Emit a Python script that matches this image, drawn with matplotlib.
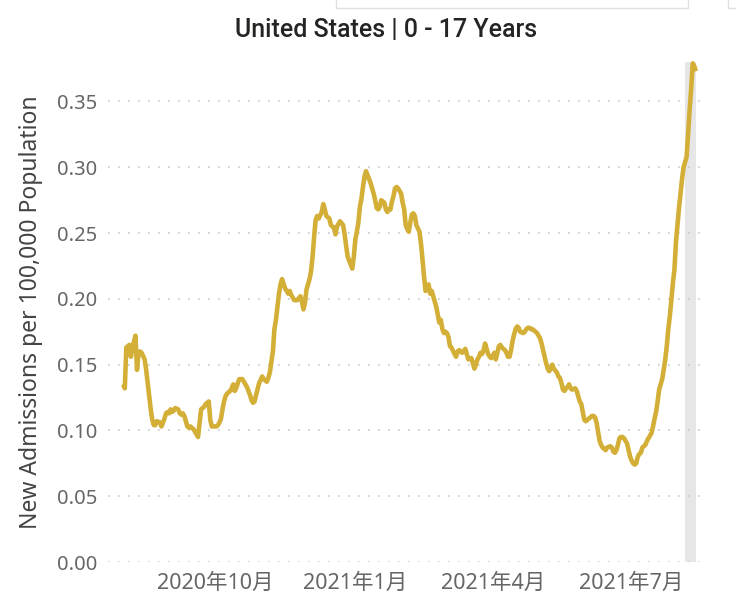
import matplotlib
matplotlib.use("Agg")
import matplotlib.pyplot as plt
from matplotlib.patches import Rectangle
import pandas as pd

plt.rcParams['font.family'] = ['Noto Sans', 'Noto Sans CJK JP']

start_date = "2020-08-01"

# days after start_date
day_offset = [
    1, 2, 3, 4, 5, 6, 7, 9, 10, 11, 12, 13, 15, 16, 17, 18, 19, 20, 21, 22, 23, 25,
    26, 27, 28, 29, 30, 31, 32, 33, 34, 35, 37, 38, 39, 40, 41, 42, 43, 44, 45, 46,
    47, 49, 50, 51, 52, 53, 54, 55, 56, 57, 58, 59, 61, 62, 63, 64, 65, 66, 67, 68,
    69, 71, 72, 73, 74, 75, 76, 77, 78, 79, 80, 82, 83, 84, 85, 86, 87, 88, 90, 92,
    93, 95, 96, 97, 99, 100, 101, 102, 103, 104, 105, 107, 109, 110, 111, 112, 113,
    115, 117, 118, 119, 120, 121, 123, 124, 125, 126, 127, 128, 129, 131, 132, 133,
    134, 136, 137, 139, 140, 141, 143, 145, 146, 147, 148, 150, 151, 152, 153, 154,
    155, 156, 157, 158, 159, 160, 161, 162, 163, 164, 165, 166, 167, 168, 169, 170,
    172, 173, 174, 175, 176, 177, 178, 179, 180, 181, 183, 184, 185, 186, 187, 188,
    189, 190, 191, 192, 193, 195, 196, 197, 198, 199, 200, 201, 202, 203, 204, 206,
    207, 208, 209, 210, 211, 212, 213, 214, 215, 216, 218, 219, 220, 221, 222, 223,
    224, 225, 226, 227, 229, 230, 231, 232, 233, 234, 235, 236, 237, 238, 240, 241,
    242, 243, 244, 245, 246, 247, 248, 249, 251, 252, 253, 254, 255, 256, 257, 258,
    259, 260, 261, 263, 264, 265, 266, 267, 268, 269, 270, 271, 272, 274, 275, 276,
    277, 278, 279, 280, 281, 282, 283, 285, 286, 287, 288, 289, 290, 291, 292, 293,
    294, 295, 297, 298, 299, 300, 301, 302, 303, 304, 305, 306, 308, 309, 310, 311,
    312, 313, 314, 315, 316, 317, 318, 320, 321, 322, 323, 324, 325, 326, 327, 328,
    329, 331, 332, 333, 334, 335, 336, 337, 338, 339, 340, 341, 343, 344, 345, 346,
    347, 348, 349, 350, 351, 352, 354, 355, 356, 357, 358, 359, 360, 361, 362, 363,
    364, 365, 366, 367, 368, 369, 370, 371, 372, 373, 374, 375, 376,
]

admissions = [
    0.135, 0.132, 0.163, 0.164, 0.165, 0.156, 0.163, 0.172, 0.146, 0.159, 0.160, 0.159,
    0.154, 0.146, 0.136, 0.126, 0.116, 0.108, 0.104, 0.104, 0.107, 0.106,
    0.103, 0.106, 0.109, 0.113, 0.114, 0.113, 0.116, 0.114, 0.115, 0.117, 0.116, 0.113,
    0.112, 0.113, 0.111, 0.107, 0.103, 0.102, 0.103, 0.102,
    0.101, 0.097, 0.095, 0.106, 0.116, 0.117, 0.118, 0.120, 0.121, 0.122, 0.108, 0.103,
    0.103, 0.103, 0.104, 0.106, 0.109, 0.116, 0.122, 0.126,
    0.128, 0.130, 0.132, 0.135, 0.130, 0.132, 0.136, 0.139, 0.139, 0.139, 0.137, 0.133,
    0.130, 0.127, 0.123, 0.121, 0.122, 0.127, 0.136, 0.141,
    0.139, 0.137, 0.140, 0.144, 0.160, 0.177, 0.184, 0.194, 0.204, 0.211, 0.215, 0.208,
    0.204, 0.206, 0.203, 0.201, 0.199,
    0.199, 0.202, 0.198, 0.192, 0.197, 0.207, 0.215, 0.221, 0.232, 0.247, 0.260, 0.263,
    0.261, 0.266, 0.272, 0.268,
    0.263, 0.261, 0.256, 0.254, 0.249, 0.255, 0.259, 0.256, 0.249, 0.240, 0.232, 0.226,
    0.223, 0.232, 0.245, 0.251,
    0.258, 0.270, 0.276, 0.285, 0.293, 0.297, 0.294, 0.291, 0.288, 0.284, 0.280, 0.275,
    0.269, 0.268, 0.270, 0.275,
    0.273, 0.268, 0.266, 0.268, 0.268, 0.274, 0.278, 0.284, 0.285, 0.284, 0.280, 0.273,
    0.268, 0.256, 0.253, 0.251,
    0.258, 0.264, 0.265, 0.263, 0.256, 0.251, 0.242, 0.230, 0.217, 0.206, 0.209, 0.211,
    0.204, 0.206, 0.202, 0.194,
    0.188, 0.182, 0.184, 0.177, 0.174, 0.175, 0.174, 0.171, 0.164, 0.163, 0.158, 0.156,
    0.160, 0.161, 0.160, 0.159,
    0.160, 0.162, 0.158, 0.154, 0.155, 0.151, 0.147, 0.150, 0.154, 0.156, 0.159, 0.158,
    0.161, 0.166, 0.158, 0.156,
    0.155, 0.156, 0.159, 0.154, 0.159, 0.164, 0.165, 0.163, 0.161, 0.159, 0.156, 0.156,
    0.161, 0.168, 0.173, 0.177,
    0.179, 0.178, 0.175, 0.174, 0.175, 0.177, 0.178, 0.178, 0.177, 0.177, 0.176, 0.175,
    0.174, 0.170, 0.166, 0.161,
    0.156, 0.151, 0.147, 0.145, 0.147, 0.150, 0.147, 0.144, 0.141, 0.140, 0.136, 0.131,
    0.130, 0.132, 0.133, 0.135,
    0.132, 0.131, 0.132, 0.130, 0.126, 0.122, 0.120, 0.114, 0.108, 0.107, 0.108, 0.109,
    0.111, 0.111, 0.110, 0.106,
    0.099, 0.092, 0.089, 0.087, 0.086, 0.085, 0.087, 0.088, 0.087, 0.084, 0.083, 0.085,
    0.089, 0.094, 0.095, 0.095,
    0.094, 0.090, 0.085, 0.080, 0.077, 0.075, 0.074, 0.075, 0.080, 0.082, 0.083, 0.087,
    0.089, 0.092, 0.094, 0.096,
    0.098, 0.103, 0.109, 0.114, 0.122, 0.131, 0.139, 0.146, 0.154, 0.164, 0.177, 0.187,
    0.199, 0.212, 0.222, 0.243,
    0.256, 0.269, 0.280, 0.291, 0.300, 0.304, 0.308, 0.326, 0.344, 0.360, 0.379, 0.377,
    0.373,
]

tick_dates = ["2020-10-01", "2021-01-01", "2021-04-01", "2021-07-01"]
tick_labels = ["2020年10月", "2021年1月", "2021年4月", "2021年7月"]
y_ticks = [0.00, 0.05, 0.10, 0.15, 0.20, 0.25, 0.30, 0.35]
title = "United States | 0 - 17 Years"
y_label = "New Admissions per 100,000 Population"

start = pd.Timestamp(start_date)
dates = start + pd.to_timedelta(day_offset, unit="D")

fig = plt.figure(figsize=(7.36, 6.12), dpi=100)
ax = fig.add_axes([108 / 736, 50 / 612, 600 / 736, 500 / 612])

# grey band over the last (incomplete) week
ax.axvspan(dates[-1] - pd.Timedelta(days=6.8), dates[-1] + pd.Timedelta(days=0.3),
           color="#e6e6e6", zorder=1, lw=0)

ax.plot(dates, admissions, color="#D4AF37", lw=3.3, zorder=3,
        solid_joinstyle="round", solid_capstyle="butt", clip_on=False)

ax.set_ylim(0, 0.38)
ax.set_xlim(start - pd.Timedelta(days=9), start + pd.Timedelta(days=384))
ax.set_yticks(y_ticks)
ax.set_yticklabels([f"{v:.2f}" for v in y_ticks])
ax.set_xticks(pd.to_datetime(tick_dates))
ax.set_xticklabels(tick_labels)

ax.grid(axis="y", color="#c8c8c8", lw=1.2, linestyle=(0, (1, 5)), zorder=0)
ax.grid(axis="x", visible=False)
for s in ax.spines.values():
    s.set_visible(False)
ax.tick_params(axis="both", length=0, colors="#666666")
ax.tick_params(axis="y", pad=8, labelsize=14.5)
ax.tick_params(axis="x", pad=8, labelsize=15.5)

ax.set_ylabel(y_label, fontsize=16.5, color="#444444", labelpad=10)

fig.text(386 / 736, 1 - 30 / 612, title, ha="center", va="center",
         fontsize=18, color="#252423", family=["Roboto"], fontweight="medium")

# pieces of the surrounding report frames at the top
fig.patches.append(Rectangle((336 / 736, 1 - 8 / 612), 352 / 736, 20 / 612,
                             transform=fig.transFigure, fill=False,
                             edgecolor="#e0e0e0", lw=1))
fig.patches.append(Rectangle((728 / 736, 1 - 8 / 612), 20 / 736, 20 / 612,
                             transform=fig.transFigure, fill=False,
                             edgecolor="#e0e0e0", lw=1))

fig.savefig("out.png", dpi=100)
